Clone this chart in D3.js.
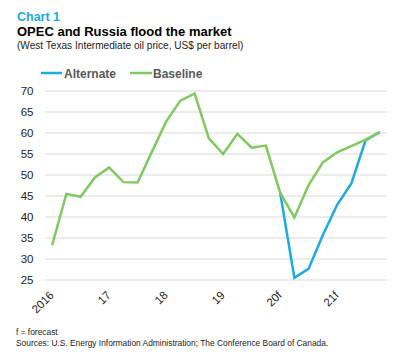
<!DOCTYPE html>
<html><head><meta charset="utf-8">
<script src="https://cdn.jsdelivr.net/npm/d3@7"></script>
<style>body{margin:0;background:#fff;} svg{display:block;font-family:"Liberation Sans",Arial,sans-serif;}</style>
</head><body>
<script>
const quarters = ["2016Q1","2016Q2","2016Q3","2016Q4","2017Q1","2017Q2","2017Q3","2017Q4","2018Q1","2018Q2","2018Q3","2018Q4","2019Q1","2019Q2","2019Q3","2019Q4","2020Q1","2020Q2","2020Q3","2020Q4","2021Q1","2021Q2","2021Q3","2021Q4"];
const baseline = [33.3,45.5,44.8,49.4,51.8,48.3,48.2,55.5,62.7,67.7,69.4,58.7,55.0,59.8,56.5,57.0,45.8,39.9,47.6,53.0,55.4,56.9,58.4,60.2];
const alternate = [null,null,null,null,null,null,null,null,null,null,null,null,null,null,null,null,45.8,25.5,27.7,35.7,42.9,48.0,58.3,60.2];
const xTickLabels = {"2016Q1":"2016","2017Q1":"17","2018Q1":"18","2019Q1":"19","2020Q1":"20f","2021Q1":"21f"};
const yTicks = [25,30,35,40,45,50,55,60,65,70];
const seriesNames = ["Alternate","Baseline"];
const colors = {Alternate:"#1BAAE2", Baseline:"#80C960"};

const W=397,H=355;
const svg=d3.select("body").append("svg").attr("width",W).attr("height",H);

const x=d3.scalePoint().domain(quarters).range([45,387]).padding(0.5);
const y=d3.scaleLinear().domain([25,70]).range([280,91]);

svg.append("text").attr("x",17).attr("y",20.5).attr("fill","#1BAAE2").attr("font-weight","bold").attr("font-size",12.5).text("Chart 1");
svg.append("text").attr("x",17).attr("y",35.5).attr("fill","#000").attr("font-weight","bold").attr("font-size",13).text("OPEC and Russia flood the market");
svg.append("text").attr("x",17).attr("y",48.5).attr("fill","#222").attr("font-size",10.1).text("(West Texas Intermediate oil price, US$ per barrel)");

const leg=[{n:"Alternate",x1:41,x2:62,tx:64},{n:"Baseline",x1:130,x2:152,tx:153}];
leg.forEach(l=>{
  svg.append("line").attr("x1",l.x1).attr("x2",l.x2).attr("y1",73).attr("y2",73).attr("stroke",colors[l.n]).attr("stroke-width",2.5);
  svg.append("text").attr("x",l.tx).attr("y",77.5).attr("fill","#595959").attr("font-weight","bold").attr("font-size",12).text(l.n);
});

svg.append("g").selectAll("line").data(yTicks).join("line")
  .attr("x1",45).attr("x2",387).attr("y1",d=>y(d)).attr("y2",d=>y(d))
  .attr("stroke","#d9d9d9").attr("stroke-width",1);
svg.append("g").selectAll("text").data(yTicks).join("text")
  .attr("x",33.5).attr("y",d=>y(d)+4).attr("text-anchor","end").attr("font-size",11.5).attr("fill","#222").text(d=>d);

// x labels rotated 45 degrees
svg.append("g").selectAll("text").data(quarters.filter(q=>xTickLabels[q])).join("text")
  .attr("transform",d=>"translate(" + (x(d)+2.5) + ",296) rotate(-45)")
  .attr("text-anchor","end").attr("font-size",11.5).attr("fill","#222").text(d=>xTickLabels[d]);

const line=d3.line().defined(d=>d.v!=null).x(d=>x(d.q)).y(d=>y(d.v));
const mk=arr=>quarters.map((q,i)=>({q,v:arr[i]}));
svg.append("path").datum(mk(alternate)).attr("d",line).attr("fill","none").attr("stroke",colors.Alternate).attr("stroke-width",2.5).attr("stroke-linejoin","miter");
svg.append("path").datum(mk(baseline)).attr("d",line).attr("fill","none").attr("stroke",colors.Baseline).attr("stroke-width",2.5).attr("stroke-linejoin","miter");

svg.append("text").attr("x",16).attr("y",335).attr("font-size",8.4).attr("fill","#222").text("f = forecast");
svg.append("text").attr("x",16).attr("y",345.5).attr("font-size",8.4).attr("fill","#222").text("Sources: U.S. Energy Information Administration; The Conference Board of Canada.");
</script>
</body></html>
